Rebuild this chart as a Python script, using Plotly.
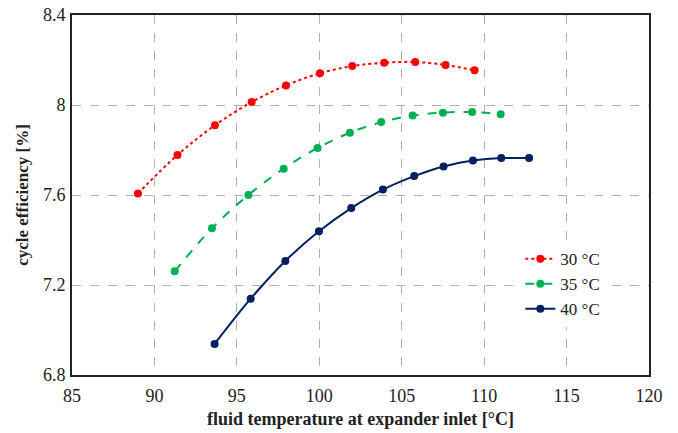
import plotly.graph_objects as go

x30 = [89.0, 91.4, 93.67, 95.9, 97.98, 100.04, 102.0, 103.94, 105.82, 107.66, 109.42]
y30 = [7.607, 7.778, 7.910, 8.013, 8.087, 8.141, 8.173, 8.188, 8.191, 8.178, 8.154]
x35 = [91.23, 93.49, 95.7, 97.84, 99.9, 101.86, 103.76, 105.66, 107.5, 109.27, 111.0]
y35 = [7.261, 7.452, 7.600, 7.717, 7.809, 7.877, 7.924, 7.953, 7.966, 7.969, 7.959]
x40 = [93.65, 95.84, 97.94, 99.98, 101.94, 103.86, 105.76, 107.54, 109.32, 111.04, 112.73]
y40 = [6.938, 7.139, 7.307, 7.439, 7.542, 7.624, 7.684, 7.727, 7.753, 7.764, 7.764]

names = ["30 °C", "35 °C", "40 °C"]
colors = ["#FF0000", "#00B050", "#002060"]
dashes = ["dot", "dash", "solid"]

fig = go.Figure()
for xs, ys, nm, c, d in zip([x30, x35, x40], [y30, y35, y40], names, colors, dashes):
    fig.add_trace(go.Scatter(
        x=xs, y=ys, name=nm, mode="lines+markers",
        line=dict(color=c, width=2, dash=d, shape="spline"),
        marker=dict(color=c, size=8),
    ))

font_family = "'Liberation Serif', 'Times New Roman', serif"
fig.update_layout(
    width=678, height=433,
    margin=dict(l=64, r=37, t=7, b=66, autoexpand=False),
    paper_bgcolor="white", plot_bgcolor="white",
    font=dict(family=font_family, size=15, color="#222"),
    showlegend=True,
    legend=dict(x=0.777, y=0.372, xanchor="left", yanchor="top",
                bgcolor="rgba(255,255,255,1)", font=dict(size=17, family=font_family),
                tracegroupgap=0, itemwidth=30),
    xaxis=dict(range=[85, 120], dtick=5, showgrid=True, gridcolor="#b0b0b0",
               griddash="dash", gridwidth=1, showline=True, linecolor="#222",
               linewidth=2, mirror=True, ticks="outside", ticklen=3,
               tickcolor="rgba(0,0,0,0)", zeroline=False,
               ticklabeloverflow="allow",
               tickfont=dict(size=18, family=font_family),
               title=dict(text="<b>fluid temperature at expander inlet [°C]</b>",
                          font=dict(size=18, family=font_family), standoff=8)),
    yaxis=dict(range=[6.8, 8.4], dtick=0.4, showgrid=True, gridcolor="#b0b0b0",
               griddash="dash", gridwidth=1, showline=True, linecolor="#222",
               linewidth=2, mirror=True, ticks="outside", ticklen=1,
               tickcolor="rgba(0,0,0,0)", zeroline=False,
               ticklabeloverflow="allow",
               tickfont=dict(size=18, family=font_family), tickformat="~g",
               title=dict(text="<b>cycle efficiency [%]</b>",
                          font=dict(size=17, family=font_family), standoff=10)),
)
fig.write_html("out.html")
